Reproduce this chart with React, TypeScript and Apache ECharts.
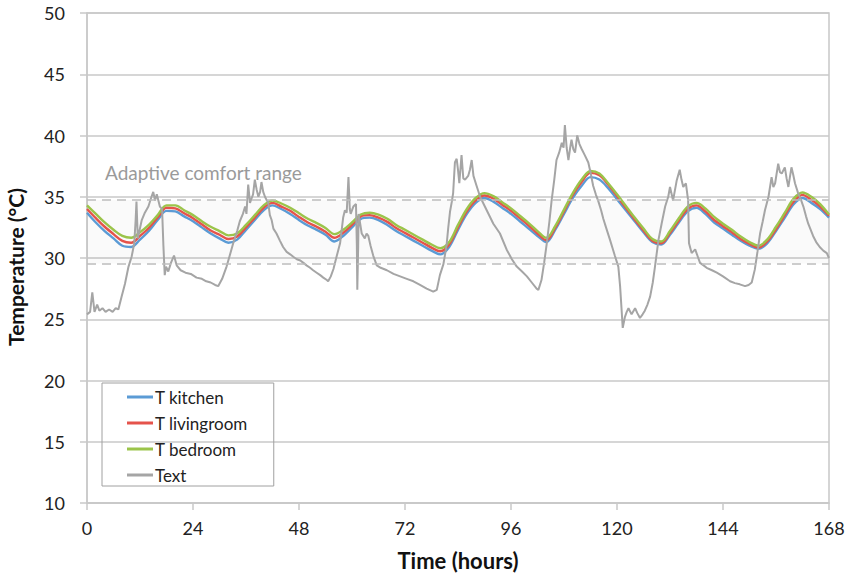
import React, { useEffect, useRef } from "react";
import * as echarts from "echarts";

const hours2h: number[] = [
  0, 2, 4, 6, 8, 10, 12, 14, 16, 18, 20, 22, 24, 26, 28, 30, 32, 34, 36, 38, 40, 42, 44, 46, 48, 50, 52, 54, 56, 58, 60, 62, 64, 66, 68, 70, 72, 74, 76, 78, 80, 82, 84, 86, 88, 90, 92, 94, 96, 98, 100, 102, 104, 106, 108, 110, 112, 114, 116, 118, 120, 122, 124, 126, 128, 130, 132, 134, 136, 138, 140, 142, 144, 146, 148, 150, 152, 154, 156, 158, 160, 162, 164, 166, 168,
];

const kitchen: number[] = [
  33.7, 32.9, 32.2, 31.6, 31.0, 30.9, 31.5, 32.2, 33.1, 33.85, 33.8, 33.4, 33.0, 32.5, 32.0, 31.6, 31.25, 31.5, 32.3, 33.1, 33.9, 34.3, 34.0, 33.6, 33.1, 32.65, 32.3, 31.9, 31.35, 31.8, 32.5, 33.2, 33.3, 33.1, 32.7, 32.2, 31.8, 31.4, 31.0, 30.6, 30.3, 30.9, 32.3, 33.6, 34.5, 34.9, 34.6, 34.1, 33.6, 33.0, 32.4, 31.8, 31.3, 32.3, 33.6, 34.9, 35.9, 36.6, 36.4, 35.7, 34.8, 33.9, 33.0, 32.1, 31.3, 31.1, 31.9, 32.9, 33.8, 34.1, 33.6, 32.9, 32.4, 31.9, 31.4, 31.0, 30.75, 31.2, 32.2, 33.3, 34.4, 34.9, 34.5, 34.0, 33.3,
];

const livingroom: number[] = [
  34.0, 33.25, 32.55, 31.95, 31.4, 31.25, 31.8, 32.45, 33.3, 34.1, 34.05, 33.65, 33.25, 32.75, 32.25, 31.9, 31.55, 31.75, 32.5, 33.3, 34.1, 34.5, 34.2, 33.85, 33.35, 32.9, 32.55, 32.15, 31.65, 32.05, 32.7, 33.4, 33.5, 33.3, 32.95, 32.45, 32.05, 31.65, 31.25, 30.85, 30.55, 31.1, 32.5, 33.8, 34.7, 35.1, 34.85, 34.35, 33.85, 33.25, 32.65, 32.0, 31.45, 32.45, 33.8, 35.15, 36.2, 36.95, 36.75, 36.0, 35.05, 34.1, 33.15, 32.25, 31.4, 31.2, 32.05, 33.05, 34.0, 34.3, 33.8, 33.1, 32.6, 32.1, 31.55, 31.15, 30.85, 31.35, 32.35, 33.5, 34.6, 35.15, 34.75, 34.2, 33.45,
];

const bedroom: number[] = [
  34.3, 33.6, 32.9, 32.3, 31.8, 31.65, 32.1, 32.7, 33.5, 34.3, 34.3, 33.9, 33.5, 33.0, 32.55, 32.2, 31.85, 32.0, 32.7, 33.5, 34.3, 34.7, 34.45, 34.1, 33.65, 33.2, 32.85, 32.45, 31.95, 32.3, 32.9, 33.55, 33.7, 33.55, 33.2, 32.7, 32.3, 31.9, 31.5, 31.1, 30.8, 31.3, 32.7, 34.0, 34.9, 35.3, 35.05, 34.55, 34.05, 33.45, 32.85, 32.2, 31.65, 32.6, 33.95, 35.3, 36.4, 37.1, 36.9, 36.1, 35.2, 34.25, 33.3, 32.4, 31.55, 31.35, 32.2, 33.25, 34.2, 34.5, 34.05, 33.35, 32.8, 32.3, 31.75, 31.3, 31.0, 31.5, 32.55, 33.7, 34.85, 35.35, 35.0, 34.4, 33.55,
];

const textTimes: number[] = [
  0, 0.7, 1.2, 1.7, 2.3, 2.8, 3.5, 4.2, 5, 5.8, 6.5, 7.1, 7.8, 8.6, 9.4, 10.1, 10.7, 11.0, 11.2, 11.5, 12.4, 13.1, 13.9, 14.6, 15, 15.4, 15.8, 16.5, 17.0, 17.3, 17.6, 17.9, 18.4, 19.0, 19.7, 20.3, 21.2, 22.3, 23.5, 24.8, 26, 27, 28, 29.0, 29.7, 30.6, 31.6, 32.4, 33.1, 34, 34.6, 35.3, 35.8, 36.1, 36.5, 36.9, 37.3, 37.6, 38.0, 38.4, 38.8, 39.2, 39.5, 39.9, 40.3, 40.7, 41.0, 41.4, 41.8, 42.2, 42.9, 43.7, 44.4, 45.2, 46, 46.7, 47.5, 48.3, 49, 49.7, 50.5, 51.2, 52, 52.8, 53.5, 54.3, 54.6, 55.2, 55.8, 56.5, 57.3, 58, 58.4, 58.8, 59.2, 59.5, 59.7, 60.3, 60.9, 61.1, 61.2, 61.4, 61.5, 62.2, 62.9, 63.3, 63.7, 64.2, 64.8, 65.6, 66.5, 67.9, 69.4, 70.9, 72.4, 73.9, 75.4, 76.9, 78.4, 79.2, 79.9, 80.7, 81.4, 81.8, 82.2, 82.6, 82.9, 83.3, 83.7, 84.0, 84.3, 84.8, 85.2, 85.6, 86.3, 86.7, 87.1, 87.5, 88.2, 89, 90.5, 92, 93.5, 95, 96.2, 97.3, 98.5, 99.6, 100.7, 101.8, 102.2, 102.9, 103.5, 104.1, 104.7, 105.2, 105.8, 106.3, 106.9, 107.5, 107.9, 108.2, 108.6, 109, 109.4, 109.7, 110.1, 110.5, 111, 111.5, 112, 112.7, 113.5, 114, 114.6, 115.2, 115.8, 116.4, 116.9, 117.6, 118.4, 119, 119.5, 120.3, 120.7, 121.0, 121.3, 121.8, 122.2, 122.6, 123.3, 124.1, 124.6, 125.2, 125.8, 126.3, 126.9, 127.5, 128.1, 128.6, 129.4, 130.1, 130.9, 131.6, 132, 132.7, 133.5, 134.2, 134.6, 135, 135.6, 136.1, 136.3, 136.9, 137.7, 138.3, 138.8, 139.6, 140.3, 141.5, 142.6, 144, 145.6, 146.7, 147.8, 149, 149.8, 150.5, 151.2, 151.8, 152.4, 153.0, 153.5, 154.3, 155, 155.4, 155.8, 156.5, 156.9, 157.3, 158, 158.4, 158.8, 159.5, 159.9, 160.3, 161, 161.6, 162.2, 162.8, 163.3, 164.4, 165.1, 165.9, 166.7, 167.5, 168,
];

const textValues: number[] = [
  25.4, 25.6, 27.2, 25.6, 26.2, 25.7, 25.9, 25.6, 25.8, 25.6, 25.9, 25.8, 26.8, 27.9, 29.3, 30.1, 31.2, 33.0, 34.6, 31.6, 33.1, 33.7, 34.2, 35.0, 35.4, 34.7, 35.2, 34.2, 34.0, 31.0, 28.6, 29.3, 28.9, 29.6, 30.2, 29.4, 29.0, 28.8, 28.7, 28.4, 28.3, 28.1, 28.0, 27.8, 27.7, 28.3, 29.3, 30.3, 31.2, 32.2, 33.0, 33.6, 34.2, 33.6, 36.0, 34.5, 34.9, 35.2, 36.4, 35.6, 35.0, 35.4, 36.2, 35.4, 35.0, 34.7, 34.6, 33.5, 33.1, 32.4, 32.0, 31.4, 30.9, 30.5, 30.3, 30.1, 29.9, 29.8, 29.6, 29.4, 29.2, 29.0, 28.8, 28.6, 28.4, 28.2, 28.1, 28.5, 29.1, 30.1, 31.2, 33.3, 33.9, 33.7, 36.6, 34.0, 33.6, 34.2, 34.4, 31.0, 27.4, 31.0, 33.6, 32.0, 31.6, 32.0, 31.8, 31.0, 30.2, 29.4, 29.2, 29.0, 28.7, 28.5, 28.3, 28.1, 27.8, 27.5, 27.25, 27.4, 28.6, 29.5, 31.0, 32.5, 33.8, 34.6, 35.3, 37.8, 38.1, 37.2, 36.1, 38.4, 36.5, 36.4, 36.7, 37.2, 38.0, 36.7, 35.9, 35.0, 33.9, 32.8, 32.0, 30.7, 29.9, 29.3, 28.9, 28.5, 28.0, 27.5, 27.4, 28.2, 29.6, 31.2, 33.0, 34.7, 36.4, 38.0, 38.6, 39.4, 39.0, 40.85, 39.0, 38.0, 39.0, 39.65, 38.9, 38.6, 40.0, 39.3, 38.9, 38.4, 37.8, 37.0, 35.9, 35.2, 34.6, 33.9, 33.2, 32.4, 31.5, 30.8, 30.2, 29.3, 27.7, 26.0, 24.3, 25.2, 25.6, 25.9, 25.4, 25.9, 25.5, 25.1, 25.4, 25.7, 26.2, 26.85, 28.0, 29.3, 31.5, 32.8, 34.2, 35.0, 35.8, 34.7, 36.3, 37.2, 36.4, 35.8, 36.1, 34.7, 31.2, 30.4, 30.7, 30.1, 29.6, 29.4, 29.2, 29.0, 28.8, 28.5, 28.1, 27.95, 27.85, 27.7, 27.8, 28.0, 29.05, 30.5, 32.0, 33.0, 33.9, 35.0, 36.6, 35.8, 36.1, 37.7, 37.0, 36.9, 37.4, 36.5, 35.8, 37.4, 36.8, 36.1, 35.3, 34.8, 34.2, 33.4, 32.8, 31.8, 31.3, 30.9, 30.6, 30.4, 30.0,
];

const comfortRange: [number, number] = [29.53, 34.73];
const comfortLabel = "Adaptive comfort range";
const yTitle = "Temperature (°C)";
const xTitle = "Time (hours)";
const seriesNames = ["T kitchen", "T livingroom", "T bedroom", "Text"];
const seriesColors = ["#5B9BD5", "#E5534B", "#9BC44A", "#A5A5A5"];

const pairs = (xs: number[], ys: number[]) => xs.map((x, i) => [x, ys[i]]);

export default function App() {
  const ref = useRef<HTMLDivElement>(null);
  useEffect(() => {
    if (!ref.current) return;
    const chart = echarts.init(ref.current, undefined, { renderer: "svg" });
    const font = "Lato, 'Open Sans', sans-serif";
    const indoor = [kitchen, livingroom, bedroom];
    const series: any[] = [
      {
        name: "comfort",
        type: "line",
        data: [],
        silent: true,
        markArea: {
          silent: true,
          itemStyle: { color: "rgba(0,0,0,0.018)" },
          data: [[{ yAxis: comfortRange[0] }, { yAxis: comfortRange[1] }]],
        },
        markLine: {
          silent: true,
          symbol: "none",
          label: { show: false },
          lineStyle: { color: "#BDBDBD", type: [9, 6], width: 1.6 },
          data: [{ yAxis: comfortRange[0] }, { yAxis: comfortRange[1] }],
        },
      },
    ];
    indoor.forEach((vals, i) => {
      series.push({
        name: seriesNames[i],
        type: "line",
        data: pairs(hours2h, vals),
        smooth: 0.35,
        showSymbol: false,
        symbol: "none",
        lineStyle: { color: seriesColors[i], width: 2.4 },
        itemStyle: { color: seriesColors[i] },
      });
    });
    series.push({
      name: seriesNames[3],
      type: "line",
      data: pairs(textTimes, textValues),
      showSymbol: false,
      symbol: "none",
      lineStyle: { color: seriesColors[3], width: 2 },
      itemStyle: { color: seriesColors[3] },
    });

    chart.setOption({
      animation: false,
      backgroundColor: "#ffffff",
      grid: {
        left: 87,
        right: 24,
        top: 13,
        bottom: 70,
        outerBoundsMode: "none",
        containLabel: false,
        show: true,
        borderColor: "#C8C8C8",
        borderWidth: 1.5,
        backgroundColor: "transparent",
      },
      legend: {
        data: seriesNames,
        orient: "vertical",
        left: 102,
        top: 383,
        padding: [4, 26, 1, 25],
        borderColor: "#A0A0A0",
        borderWidth: 1,
        itemWidth: 26,
        itemHeight: 3,
        itemGap: 6,
        icon: "rect",
        textStyle: { fontFamily: font, fontSize: 17, color: "#222", lineHeight: 20, padding: [0, 0, 0, -3] },
      },
      graphic: [
        {
          type: "text",
          left: 105,
          top: 163,
          style: { text: comfortLabel, fontFamily: font, fontSize: 19, fill: "#9A9A9A" },
        },
        {
          type: "text",
          x: 15,
          y: 267,
          rotation: Math.PI / 2,
          style: {
            text: yTitle,
            fontFamily: font,
            fontSize: 21,
            fontWeight: "bold",
            fill: "#111",
            align: "center",
            verticalAlign: "middle",
          },
        },
      ],
      xAxis: {
        type: "value",
        min: 0,
        max: 168,
        interval: 24,
        name: xTitle,
        nameLocation: "middle",
        nameGap: 46,
        nameTextStyle: { fontFamily: font, fontSize: 22, fontWeight: "bold", color: "#111" },
        axisLine: { show: true, lineStyle: { color: "#C8C8C8", width: 1.5 } },
        axisTick: { show: true, length: 7, lineStyle: { color: "#C8C8C8", width: 1.5 } },
        axisLabel: { fontFamily: font, fontSize: 18, color: "#222", margin: 16 },
        splitLine: { show: false },
      },
      yAxis: {
        type: "value",
        min: 10,
        max: 50,
        interval: 5,
        axisLine: { show: true, lineStyle: { color: "#C8C8C8", width: 1.5 } },
        axisTick: { show: true, length: 7, lineStyle: { color: "#C8C8C8", width: 1.5 } },
        axisLabel: { fontFamily: font, fontSize: 18, color: "#222", margin: 22 },
        splitLine: { show: true, lineStyle: { color: "#C8C8C8", width: 1.5 } },
      },
      series,
    });
    return () => chart.dispose();
  }, []);
  return (
    <div
      ref={ref}
      style={{ position: "fixed", left: 0, top: 0, width: 853, height: 573, background: "#fff" }}
    />
  );
}
